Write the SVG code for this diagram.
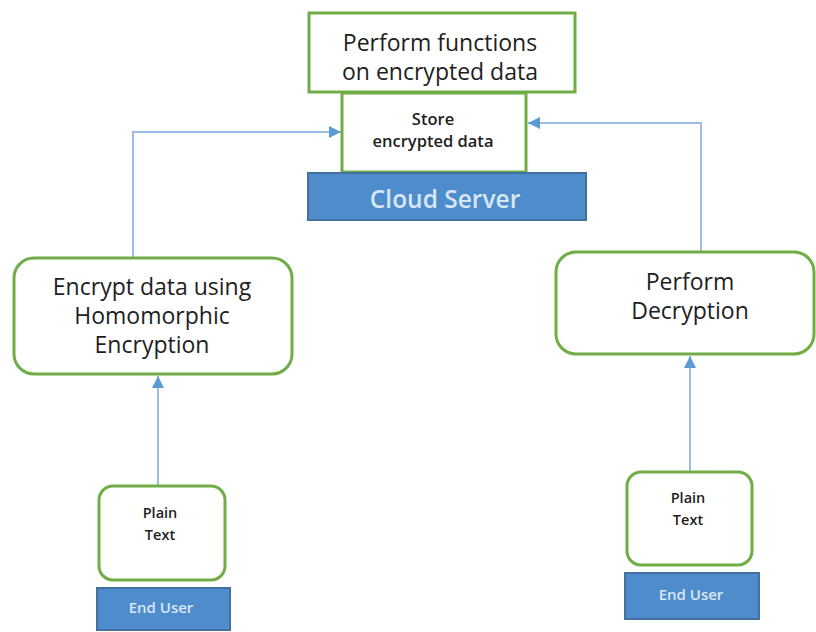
<svg xmlns="http://www.w3.org/2000/svg" width="816" height="632" viewBox="0 0 816 632">
<defs>
<style>
.g{fill:#fff;stroke:#70ad47;stroke-width:3}
.b{fill:#4f8ccb;stroke:#41719c;stroke-width:2}
.t{font-family:"Open Sans","Liberation Sans",sans-serif;fill:#1e1e1e;text-anchor:middle}
.s{font-weight:600}
.w{font-family:"Open Sans","Liberation Sans",sans-serif;fill:#d8e6f7;text-anchor:middle;font-weight:600}
.c{fill:none;stroke:#9dbde6;stroke-width:2}
</style>
<marker id="ah" viewBox="0 0 10 10" refX="10" refY="5" markerWidth="6.5" markerHeight="6" orient="auto" markerUnits="strokeWidth">
<path d="M0,0 L10,5 L0,10 z" fill="#5b9bd5"/>
</marker>
</defs>
<rect width="816" height="632" fill="#fff"/>
<g id="connectors">
<path class="c" d="M133,257 V132 H341" marker-end="url(#ah)"/>
<path class="c" d="M701,251 V123 H528" marker-end="url(#ah)"/>
<path class="c" d="M158,486 V376" marker-end="url(#ah)"/>
<path class="c" d="M690,472 V356" marker-end="url(#ah)"/>
</g>
<g id="perform-functions">
<rect class="g" x="309" y="13" width="266" height="79"/>
<text class="t" x="440" y="51" font-size="23">Perform functions</text>
<text class="t" x="440" y="80" font-size="23">on encrypted data</text>
</g>
<g id="store">
<rect class="g" x="342" y="93" width="184" height="79"/>
<text class="t s" x="433" y="125" font-size="16.5">Store</text>
<text class="t s" x="433" y="147" font-size="16.5">encrypted data</text>
</g>
<g id="cloud-server">
<rect class="b" x="308" y="173" width="278" height="47"/>
<text class="w" x="445" y="208" font-size="24.5">Cloud Server</text>
</g>
<g id="encrypt">
<rect class="g" x="14" y="258" width="278" height="116" rx="20"/>
<text class="t" x="152" y="295" font-size="23">Encrypt data using</text>
<text class="t" x="152" y="324" font-size="23">Homomorphic</text>
<text class="t" x="152" y="353" font-size="23">Encryption</text>
</g>
<g id="decrypt">
<rect class="g" x="556" y="252" width="258" height="102" rx="20"/>
<text class="t" x="690" y="290" font-size="23">Perform</text>
<text class="t" x="690" y="319" font-size="23">Decryption</text>
</g>
<g id="plain-left">
<rect class="g" x="99" y="486" width="126" height="94" rx="14"/>
<text class="t s" x="160" y="518" font-size="14.5">Plain</text>
<text class="t s" x="160" y="540" font-size="14.5">Text</text>
</g>
<g id="user-left">
<rect class="b" x="97" y="588" width="133" height="42"/>
<text class="w" x="161" y="613" font-size="15">End User</text>
</g>
<g id="plain-right">
<rect class="g" x="627" y="472" width="125" height="93" rx="14"/>
<text class="t s" x="688" y="503" font-size="14.5">Plain</text>
<text class="t s" x="688" y="525" font-size="14.5">Text</text>
</g>
<g id="user-right">
<rect class="b" x="625" y="573" width="134" height="46"/>
<text class="w" x="691" y="600" font-size="15">End User</text>
</g>
</svg>
